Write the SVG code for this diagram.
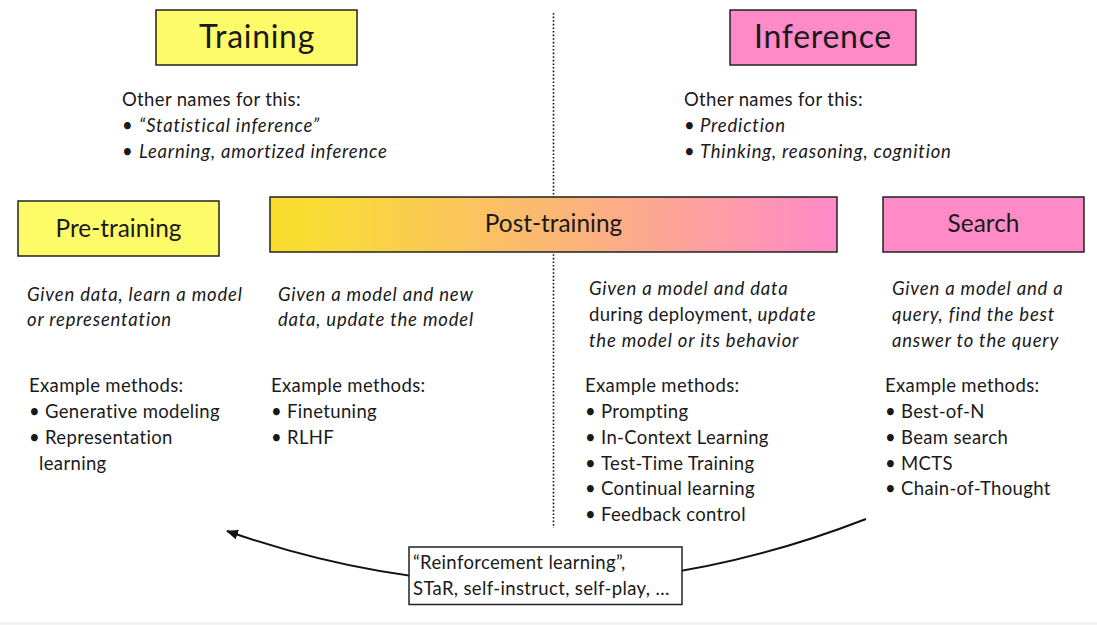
<svg xmlns="http://www.w3.org/2000/svg" width="1097" height="625" viewBox="0 0 1097 625">
<defs>
<linearGradient id="postgrad" x1="0" y1="0" x2="1" y2="0">
<stop offset="0" stop-color="#f9dc2a"/>
<stop offset="0.08" stop-color="#f9dc35"/>
<stop offset="0.5" stop-color="#fbb774"/>
<stop offset="1" stop-color="#ff8ac9"/>
</linearGradient>
<marker id="arrow" viewBox="0 0 12 10" refX="11" refY="5" markerWidth="12" markerHeight="10" markerUnits="userSpaceOnUse" orient="auto">
<path d="M0,0 L12,5 L0,10 Z" fill="#111"/>
</marker>
<style>
text{font-family:Lato,"Liberation Sans",sans-serif;fill:#1a1a1a}
.box{stroke:#222;stroke-width:1.5}
.yellow{fill:#fdfc68}
.pink{fill:#ff8ac8}
.big{font-size:32px;text-anchor:middle;letter-spacing:0.7px}
.mid{font-size:24.4px;text-anchor:middle}
.body{font-size:18.5px;letter-spacing:0.35px}
.it{font-style:italic;letter-spacing:0.8px}
.dot{stroke:#111;stroke-width:1.6;stroke-dasharray:1.6 2;fill:none}
</style>
</defs>
<rect x="0" y="0" width="1097" height="625" fill="#ffffff"/>
<rect x="0" y="622" width="1097" height="3" fill="#f3f3f3"/>

<g id="divider">
<line class="dot" x1="553.5" y1="13" x2="553.5" y2="528"/>
</g>

<g id="connectors">
<path d="M866,519 Q546,643 227,531" fill="none" stroke="#111" stroke-width="2" marker-end="url(#arrow)"/>
</g>

<g id="training">
<rect class="box yellow" x="156" y="10" width="201" height="55"/>
<text class="big" x="257" y="48">Training</text>
<text class="body" x="122" y="106">Other names for this:</text>
<text class="body" x="122" y="132">•</text>
<text class="body it" x="139" y="132">“Statistical inference”</text>
<text class="body" x="122" y="158">•</text>
<text class="body it" x="139" y="158">Learning, amortized inference</text>
</g>

<g id="inference">
<rect class="box pink" x="730" y="10" width="186" height="55"/>
<text class="big" x="823" y="48">Inference</text>
<text class="body" x="684" y="106">Other names for this:</text>
<text class="body" x="684" y="132">•</text>
<text class="body it" x="700" y="132">Prediction</text>
<text class="body" x="684" y="158">•</text>
<text class="body it" x="700" y="158">Thinking, reasoning, cognition</text>
</g>

<g id="pretraining">
<rect class="box yellow" x="18" y="201" width="201" height="55"/>
<text class="mid" x="118.5" y="237">Pre-training</text>
<text class="body it" x="27" y="301">Given data, learn a model</text>
<text class="body it" x="27" y="326">or representation</text>
<text class="body" x="29" y="392">Example methods:</text>
<text class="body" x="29" y="418">•</text>
<text class="body" x="45" y="418">Generative modeling</text>
<text class="body" x="29" y="444">•</text>
<text class="body" x="45" y="444">Representation</text>
<text class="body" x="39" y="470">learning</text>
</g>

<g id="posttraining">
<rect class="box" x="270" y="197" width="567" height="55" fill="url(#postgrad)"/>
<text class="mid" x="553.5" y="232">Post-training</text>
<text class="body it" x="278" y="301">Given a model and new</text>
<text class="body it" x="278" y="326">data, update the model</text>
<text class="body" x="271" y="392">Example methods:</text>
<text class="body" x="271" y="418">•</text>
<text class="body" x="287" y="418">Finetuning</text>
<text class="body" x="271" y="444">•</text>
<text class="body" x="287" y="444">RLHF</text>
</g>

<g id="deployment">
<text class="body it" x="589" y="295">Given a model and data</text>
<text class="body" x="589" y="321">during deployment, <tspan class="it">update</tspan></text>
<text class="body it" x="589" y="347">the model or its behavior</text>
<text class="body" x="585" y="392">Example methods:</text>
<text class="body" x="585" y="418">•</text>
<text class="body" x="601" y="418">Prompting</text>
<text class="body" x="585" y="444">•</text>
<text class="body" x="601" y="444">In-Context Learning</text>
<text class="body" x="585" y="470">•</text>
<text class="body" x="601" y="470">Test-Time Training</text>
<text class="body" x="585" y="495">•</text>
<text class="body" x="601" y="495">Continual learning</text>
<text class="body" x="585" y="521">•</text>
<text class="body" x="601" y="521">Feedback control</text>
</g>

<g id="search">
<rect class="box pink" x="883" y="197" width="201" height="55"/>
<text class="mid" x="983.5" y="232">Search</text>
<text class="body it" x="892" y="295">Given a model and a</text>
<text class="body it" x="892" y="321">query, find the best</text>
<text class="body it" x="892" y="347">answer to the query</text>
<text class="body" x="885" y="392">Example methods:</text>
<text class="body" x="885" y="418">•</text>
<text class="body" x="901" y="418">Best-of-N</text>
<text class="body" x="885" y="444">•</text>
<text class="body" x="901" y="444">Beam search</text>
<text class="body" x="885" y="470">•</text>
<text class="body" x="901" y="470">MCTS</text>
<text class="body" x="885" y="495">•</text>
<text class="body" x="901" y="495">Chain-of-Thought</text>
</g>

<g id="rl-box">
<rect x="409" y="547" width="273" height="57.5" fill="#ffffff" stroke="#222" stroke-width="1.5"/>
<text class="body" x="413" y="569">“Reinforcement learning”,</text>
<text class="body" x="413" y="595">STaR, self-instruct, self-play, …</text>
</g>
</svg>
